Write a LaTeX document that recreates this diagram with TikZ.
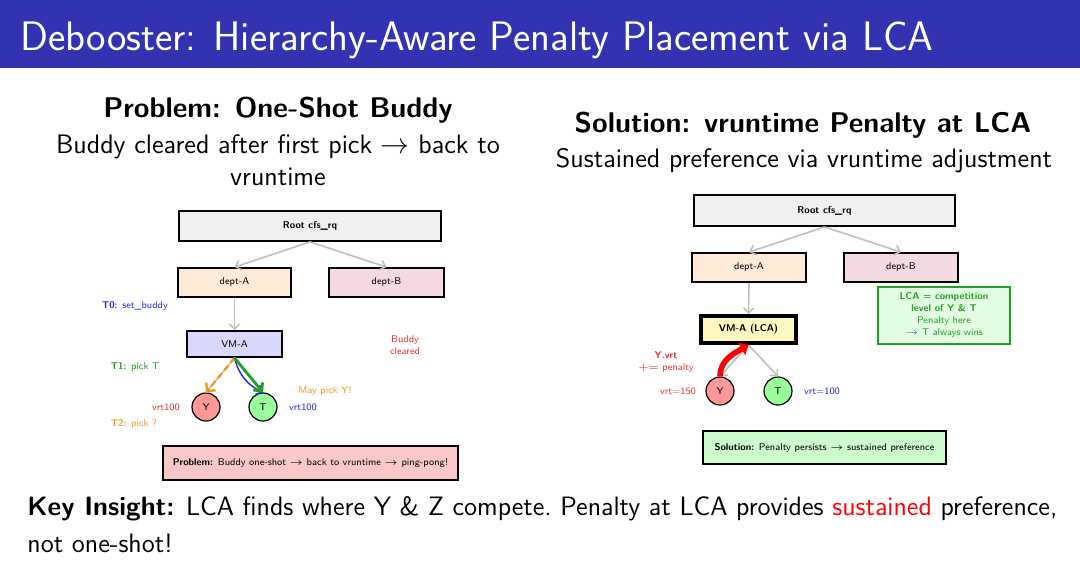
\documentclass[tikz,border=0pt]{standalone}
\usepackage{fontspec}
\renewcommand{\familydefault}{\sfdefault}
\usetikzlibrary{arrows.meta}
\definecolor{titleblue}{RGB}{51,51,178}
\definecolor{lblred}{RGB}{232,50,50}
\definecolor{lblblue}{RGB}{40,40,225}
\definecolor{lblgreen}{RGB}{30,160,30}
\definecolor{lblorange}{RGB}{245,150,30}
\definecolor{rootfill}{RGB}{240,240,240}
\definecolor{deptafill}{RGB}{253,235,216}
\definecolor{deptbfill}{RGB}{245,217,226}
\definecolor{vmfill}{RGB}{216,216,252}
\definecolor{lcafill}{RGB}{255,248,192}
\definecolor{yfill}{RGB}{255,153,153}
\definecolor{tfill}{RGB}{153,255,153}
\definecolor{probfill}{RGB}{250,200,200}
\definecolor{solfill}{RGB}{204,252,204}
\definecolor{notefill}{RGB}{228,252,228}
\definecolor{notegreen}{RGB}{30,165,30}
\definecolor{arrgray}{RGB}{190,190,190}
\begin{document}
\begin{tikzpicture}[x=0.5pt,y=-0.5pt,
  small/.style={font=\fontsize{4.9}{6}\selectfont},
  box/.style={draw=black, line width=0.9pt, small, inner sep=1pt},
  task/.style={circle, draw=black, line width=0.6pt, minimum size=14pt, inner sep=0pt, small},
  lbl/.style={small, inner sep=0pt},
  tree/.style={draw=arrgray, line width=0.8pt, -{Straight Barb[length=2.5pt,width=5pt]}},
  heading/.style={font=\fontsize{14.25}{17}\selectfont\bfseries, inner sep=0pt},
  subline/.style={font=\fontsize{13.35}{16}\selectfont, inner sep=0pt},
  body/.style={font=\fontsize{13.3}{16}\selectfont, inner sep=0pt}]
\useasboundingbox (0,0) rectangle (1080,570);

% title bar
\fill[titleblue] (0,0) rectangle (1080,68);
\node[anchor=base west, text=white, inner sep=0pt, font=\fontsize{20.6}{24}\selectfont] (title) at (20,50)
  {Debooster: Hierarchy-Aware Penalty Placement via LCA};

% ---------------- left column: one-shot buddy ----------------
\node[heading, anchor=base] (hL) at (278,117) {Problem: One-Shot Buddy};
\node[subline, anchor=base] (sL1) at (278,153) {Buddy cleared after first pick $\rightarrow$ back to};
\node[subline, anchor=base] (sL2) at (278,185) {vruntime};

\node[box, fill=rootfill, minimum width=131pt, minimum height=15pt, font=\fontsize{4.9}{6}\selectfont\bfseries] (rootL) at (310,226) {Root cfs\_rq};
\node[box, fill=deptafill, minimum width=56.5pt, minimum height=14.5pt] (dAL) at (234.5,282.5) {dept-A};
\node[box, fill=deptbfill, minimum width=57.5pt, minimum height=14.5pt] (dBL) at (386.5,282.5) {dept-B};
\node[box, fill=vmfill, minimum width=47.5pt, minimum height=13pt] (vmL) at (234.5,344) {VM-A};
\node[task, fill=yfill] (yL) at (206,407) {Y};
\node[task, fill=tfill] (tL) at (263,407) {T};
\node[box, fill=probfill, minimum width=147.5pt, minimum height=17pt] (probL) at (310.5,463)
  {\textbf{Problem:} Buddy one-shot $\rightarrow$ back to vruntime $\rightarrow$ ping-pong!};

\draw[tree] (rootL.south) -- (dAL.north);
\draw[tree] (rootL.south) -- (dBL.north);
\draw[tree] (dAL.south) -- (vmL.north);
\draw[draw=arrgray, line width=0.8pt] (vmL.south) -- (yL.north);
\draw[draw=lblorange, line width=1.2pt, dashed, dash pattern=on 3pt off 2pt,
      -{Straight Barb[length=3pt,width=6pt]}] (vmL.south) -- (yL.north);
\draw[draw=lblblue, line width=0.7pt, -{Straight Barb[length=2.5pt,width=5pt]}] (vmL.south) to[bend right=25] (tL.north);
\draw[draw=lblgreen, line width=1.4pt, -{Straight Barb[length=3pt,width=6pt]}] (vmL.south) -- (tL.north);

\node[lbl, text=lblblue] (t0) at (135,306) {\textbf{T0:} set\_buddy};
\node[lbl, text=lblred, align=center] (bc) at (405,345) {Buddy\\cleared};
\node[lbl, text=lblgreen] (t1) at (135,367) {\textbf{T1:} pick T};
\node[lbl, text=lblorange] (may) at (325,391) {May pick Y!};
\node[lbl, text=lblred] (vyL) at (166,407) {vrt100};
\node[lbl, text=lblblue] (vtL) at (303,407) {vrt100};
\node[lbl, text=lblorange] (t2) at (134,424) {\textbf{T2:} pick ?};

% ---------------- right column: vruntime penalty at LCA ----------------
\node[heading, anchor=base] (hR) at (803,132) {Solution: vruntime Penalty at LCA};
\node[subline, anchor=base] (sR) at (804,167) {Sustained preference via vruntime adjustment};

\node[box, fill=rootfill, minimum width=130.5pt, minimum height=15.5pt, font=\fontsize{4.9}{6}\selectfont\bfseries] (rootR) at (824.5,210.5) {Root cfs\_rq};
\node[box, fill=deptafill, minimum width=57pt, minimum height=14.5pt] (dAR) at (749,267.5) {dept-A};
\node[box, fill=deptbfill, minimum width=57pt, minimum height=14.5pt] (dBR) at (901,267.5) {dept-B};
\node[box, fill=lcafill, line width=2pt, minimum width=47.5pt, minimum height=13.5pt, font=\fontsize{4.9}{6}\selectfont\bfseries] (vmR) at (748.5,329.5) {VM-A (LCA)};
\node[draw=notegreen, line width=0.9pt, fill=notefill, text=notegreen, minimum width=66pt, minimum height=28.5pt,
      align=center, small, inner sep=1pt] (note) at (944,315.5)
  {\textbf{LCA = competition}\\\textbf{level of Y \& T}\\Penalty here\\$\rightarrow$ T always wins};
\node[task, fill=yfill] (yR) at (720,391) {Y};
\node[task, fill=tfill] (tR) at (778,391) {T};
\node[box, fill=solfill, minimum width=121.5pt, minimum height=16.5pt] (solR) at (824.5,447.5)
  {\textbf{Solution:} Penalty persists $\rightarrow$ sustained preference};

\draw[tree] (rootR.south) -- (dAR.north);
\draw[tree] (rootR.south) -- (dBR.north);
\draw[tree] (dAR.south) -- (vmR.north);
\draw[tree] (vmR.south) -- (yR.north);
\draw[tree] (vmR.south) -- (tR.north);
\draw[draw=red, line width=2.8pt, -{Triangle[length=4pt,width=7pt]}] (yR.north) to[out=90,in=-150] (vmR.south);

\node[lbl, text=lblred, align=center] (pen) at (666,362) {\textbf{Y.vrt}\\${+}{=}$ penalty};
\node[lbl, text=lblred] (vyR) at (678,391) {vrt=150};
\node[lbl, text=lblblue] (vtR) at (822,391) {vrt=100};

% ---------------- bottom line ----------------
\node[body, anchor=base west] (key1) at (27,515)
  {\textbf{Key Insight:} LCA finds where Y \& Z compete.\ Penalty at LCA provides \textcolor{red}{sustained} preference,};
\node[body, anchor=base west] (key2) at (27,552) {not one-shot!};
\end{tikzpicture}
\end{document}
